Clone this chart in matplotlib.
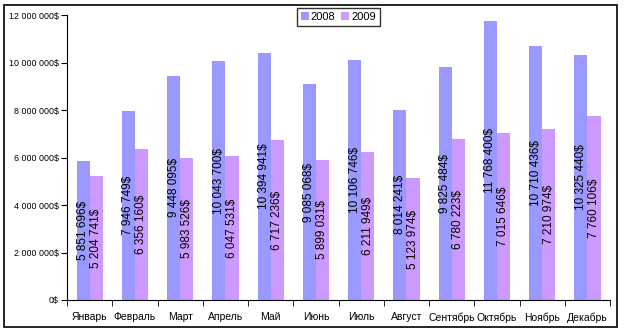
import matplotlib
matplotlib.use("Agg")
import matplotlib.pyplot as plt
import matplotlib.ticker as mtick
from matplotlib.patches import Rectangle
import numpy as np

plt.rcParams['font.family'] = ['Liberation Sans', 'DejaVu Sans']

months = ["Январь", "Февраль", "Март", "Апрель", "Май", "Июнь",
          "Июль", "Август", "Сентябрь", "Октябрь", "Ноябрь", "Декабрь"]
sales_2008 = [5851696, 7946749, 9448095, 10043700, 10394941, 9085068,
              10106746, 8014241, 9825484, 11768400, 10710436, 10325440]
sales_2009 = [5204741, 6356160, 5983526, 6047531, 6717236, 5899031,
              6211949, 5123974, 6780223, 7015646, 7210974, 7760106]
series_names = ["2008", "2009"]
colors = ["#9999FF", "#CC99FF"]


def money(v, pos=None):
    return "{:,.0f}$".format(v).replace(",", " ")


fig = plt.figure(figsize=(6.24, 3.34), dpi=100)
ax = fig.add_axes([0.1074, 0.1018, 0.8702, 0.8532])

x = np.arange(len(months))
w = 0.29

b1 = ax.bar(x - w / 2, sales_2008, w, color=colors[0], label=series_names[0])
b2 = ax.bar(x + w / 2, sales_2009, w, color=colors[1], label=series_names[1])

for bars in (b1, b2):
    ax.bar_label(bars, labels=[money(v) for v in bars.datavalues],
                 label_type='center', rotation=90, fontsize=8.5)

ax.set_xlim(-0.5, len(months) - 0.5)
ax.set_ylim(0, 12000000)
ax.yaxis.set_major_locator(mtick.MultipleLocator(2000000))
ax.yaxis.set_major_formatter(mtick.FuncFormatter(money))

ax.set_xticks(x)
ax.set_xticklabels(months)
ax.set_xticks(np.arange(-0.5, len(months)), minor=True)
ax.tick_params(axis='x', which='major', length=0, pad=9, labelsize=7.5)
ax.tick_params(axis='x', which='minor', length=4, direction='out', color='black')
ax.tick_params(axis='y', length=4, direction='out', labelsize=6.4, color='black', pad=2)

ax.spines['top'].set_visible(False)
ax.spines['right'].set_visible(False)
ax.spines['left'].set_color('black')
ax.spines['bottom'].set_color('black')

leg = ax.legend(loc='upper left', bbox_to_anchor=(0.4235, 1.0247), ncol=2,
                fontsize=8, frameon=True, fancybox=False, handlelength=0.7,
                handleheight=0.7, handletextpad=0.2, columnspacing=0.5,
                borderpad=0.35, borderaxespad=0)
leg.get_frame().set_edgecolor('black')
leg.get_frame().set_linewidth(1)

fig.patches.append(Rectangle((4 / 624, 7 / 334), 613 / 624, 322 / 334,
                             transform=fig.transFigure, fill=False,
                             edgecolor='black', linewidth=1.2))

fig.savefig("out.png", dpi=100)
